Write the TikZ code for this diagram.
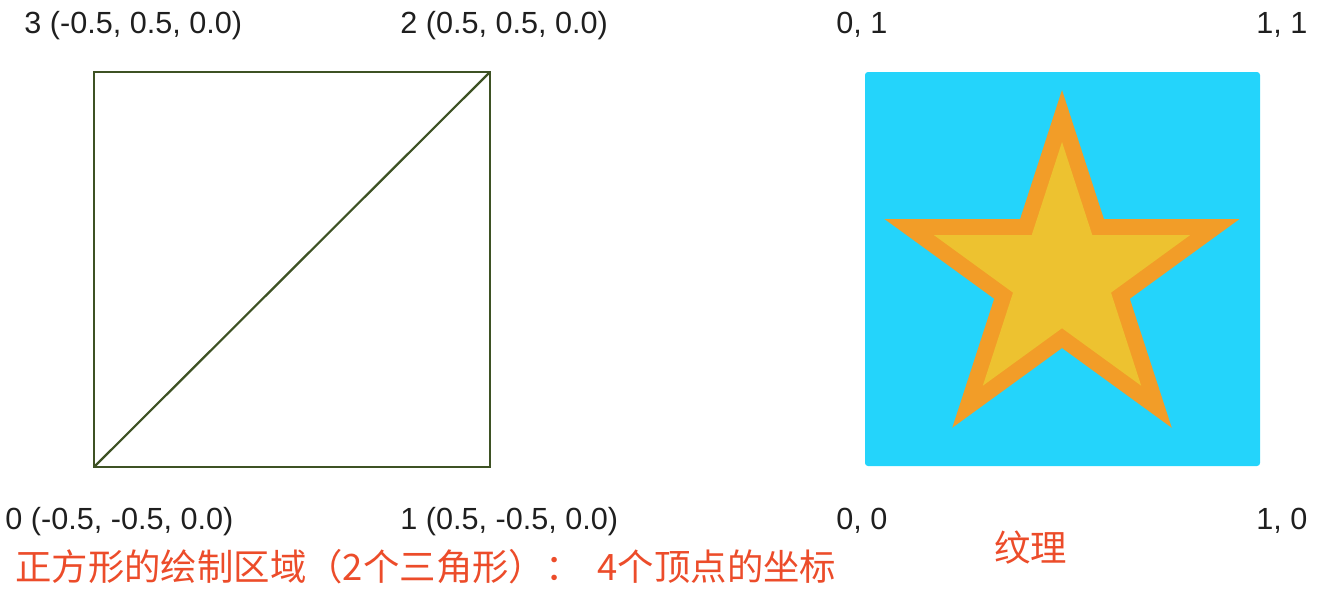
\documentclass[tikz,border=0pt]{standalone}
\usepackage{fontspec}
\setmainfont{Liberation Sans}
\newfontfamily\cjk{Noto Sans CJK SC}
\usepackage{tikz}
\definecolor{clrEdge}{RGB}{62,82,36}
\definecolor{clrSky}{RGB}{36,212,251}
\definecolor{clrRim}{RGB}{242,157,40}
\definecolor{clrGold}{RGB}{237,194,48}
\definecolor{clrNote}{RGB}{236,76,42}

\begin{document}
\begin{tikzpicture}[x=0.5pt,y=-0.5pt,
  every node/.style={inner sep=0pt}]
  \tikzset{
    vertexlabel/.style={anchor=base west,text=black!88,
      font=\fontsize{15.3}{18}\selectfont},
    note/.style={anchor=base west,text=clrNote,
      font=\cjk\fontsize{18.2}{21}\selectfont},
    quadedge/.style={draw=clrEdge,line width=1.1pt},
    texture/.style={fill=clrSky,rounded corners=1.5pt},
    starrim/.style={fill=clrRim},
    starbody/.style={fill=clrGold}
  }
  \useasboundingbox (0,0) rectangle (1322,606);

  % Quad
  \coordinate (v0) at (94,467);
  \coordinate (v1) at (490,467);
  \coordinate (v2) at (490,72);
  \coordinate (v3) at (94,72);
  \draw[quadedge] (v0) -- (v1) -- (v2) -- (v3) -- cycle;
  \draw[quadedge] (v0) -- (v2);
  \node[vertexlabel] (lbl-v3) at (24,33) {3 (-0.5, 0.5, 0.0)};
  \node[vertexlabel] (lbl-v2) at (400,33) {2 (0.5, 0.5, 0.0)};
  \node[vertexlabel] (lbl-v0) at (5,529) {0 (-0.5, -0.5, 0.0)};
  \node[vertexlabel] (lbl-v1) at (400,529) {1 (0.5, -0.5, 0.0)};
  \node[note] (quad-note) at (15,580)
    {正方形的绘制区域（2个三角形）：\hspace{4pt} 4个顶点的坐标};

  % Texture
  \fill[texture] (865,72) rectangle (1260,466);
  \fill[starrim,shift={(1062,276.7)}] (270:186.7)
    \foreach \a in {306,378,450,522,594} {-- (\a:71.3) -- ({\a+36}:186.7)}
    -- cycle;
  \fill[starbody,shift={(1062,276.7)}] (270:134.7)
    \foreach \a in {306,378,450,522,594} {-- (\a:51.5) -- ({\a+36}:134.7)}
    -- cycle;
  \node[vertexlabel] (lbl-t01) at (836,33) {0, 1};
  \node[vertexlabel] (lbl-t11) at (1256,33) {1, 1};
  \node[vertexlabel] (lbl-t00) at (836,529) {0, 0};
  \node[vertexlabel] (lbl-t10) at (1256,529) {1, 0};
  \node[note] (tex-note) at (994,561) {纹理};
\end{tikzpicture}
\end{document}
